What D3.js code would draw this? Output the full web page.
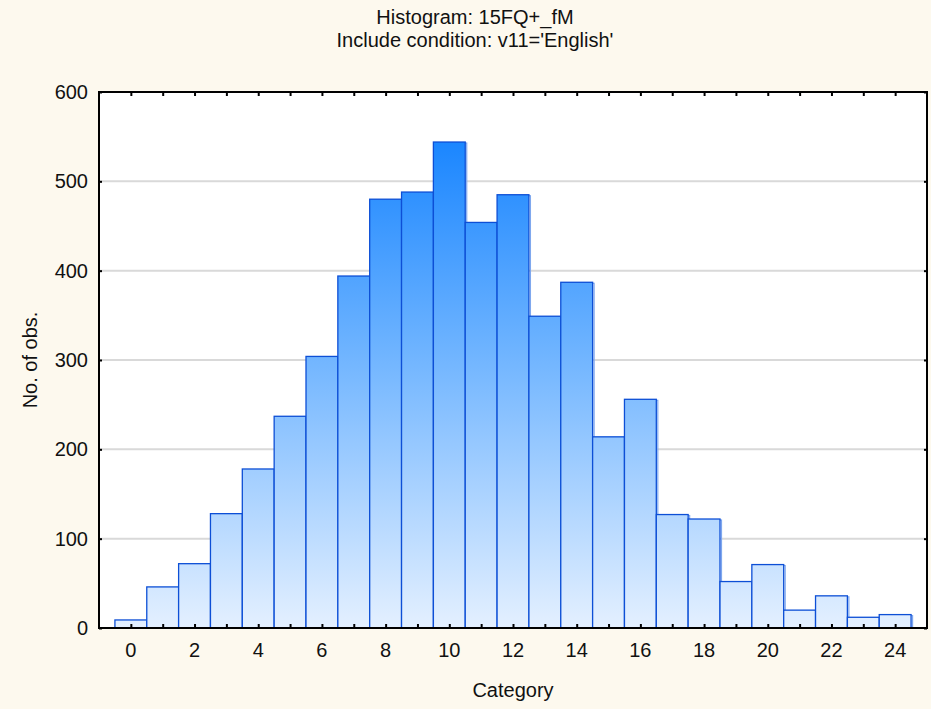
<!DOCTYPE html>
<html>
<head>
<meta charset="utf-8">
<script src="https://cdn.jsdelivr.net/npm/d3@7"></script>
<style>
  body { margin: 0; background: #fdf9ee; }
  svg { display: block; font-family: "Liberation Sans", Arial, sans-serif; }
</style>
</head>
<body>
<div id="chart"></div>
<script>
// histogram counts, category 0..24
var categories = d3.range(0, 25);
var counts = [9, 46, 72, 128, 178, 237, 304, 394, 480, 488, 544, 454, 485, 349, 387,
              214, 256, 127, 122, 52, 71, 20, 36, 12, 15];
var xTickLabels = [0, 2, 4, 6, 8, 10, 12, 14, 16, 18, 20, 22, 24];
var yTicks = [0, 100, 200, 300, 400, 500, 600];

var _width = 931, _height = 709,
    _margin = {top: 92, right: 4, bottom: 81, left: 99},
    _fontSize = 20;

var svg = d3.select('#chart').append('svg')
    .attr('width', _width)
    .attr('height', _height);

svg.append('rect')
    .attr('width', _width).attr('height', _height)
    .attr('fill', '#fdf9ee');

var innerW = _width - _margin.left - _margin.right,
    innerH = _height - _margin.top - _margin.bottom;

var x = d3.scaleLinear().domain([-1, 25]).range([_margin.left, _margin.left + innerW]);
var y = d3.scaleLinear().domain([0, 600]).range([_margin.top + innerH, _margin.top]);

// gradient tied to plot area so tall bars get the deep blue
var defs = svg.append('defs');
var grad = defs.append('linearGradient')
    .attr('id', 'barGrad')
    .attr('gradientUnits', 'userSpaceOnUse')
    .attr('x1', 0).attr('x2', 0)
    .attr('y1', y(560)).attr('y2', y(0));
grad.append('stop').attr('offset', '0%').attr('stop-color', '#1583ff');
grad.append('stop').attr('offset', '45%').attr('stop-color', '#6fb4ff');
grad.append('stop').attr('offset', '100%').attr('stop-color', '#e4f0ff');

// plot background
svg.append('rect')
    .attr('x', x(-1)).attr('y', y(600))
    .attr('width', innerW).attr('height', innerH)
    .attr('fill', '#ffffff');

// grid lines
svg.append('g')
    .selectAll('line')
    .data(yTicks.slice(1, -1))
    .enter().append('line')
      .attr('x1', x(-1)).attr('x2', x(25))
      .attr('y1', function(d) { return y(d); })
      .attr('y2', function(d) { return y(d); })
      .attr('stroke', '#d9d9d9')
      .attr('stroke-width', 2);

// bars: light offset edge first, then the bar itself
var bars = svg.append('g').selectAll('g')
    .data(categories)
    .enter().append('g');

bars.append('rect')
    .attr('x', function(d) { return x(d - 0.5) + 1.5; })
    .attr('y', function(d, i) { return y(counts[i]) + 1; })
    .attr('width', function(d) { return x(d + 0.5) - x(d - 0.5); })
    .attr('height', function(d, i) { return y(0) - y(counts[i]) - 1; })
    .attr('fill', 'none')
    .attr('stroke', '#7fa8ee')
    .attr('stroke-width', 1.2);

bars.append('rect')
    .attr('x', function(d) { return x(d - 0.5); })
    .attr('y', function(d, i) { return y(counts[i]); })
    .attr('width', function(d) { return x(d + 0.5) - x(d - 0.5); })
    .attr('height', function(d, i) { return y(0) - y(counts[i]); })
    .attr('fill', 'url(#barGrad)')
    .attr('stroke', '#0d4fd6')
    .attr('stroke-width', 1.3);

// frame
svg.append('rect')
    .attr('x', x(-1)).attr('y', y(600))
    .attr('width', innerW).attr('height', innerH)
    .attr('fill', 'none')
    .attr('stroke', '#000')
    .attr('stroke-width', 2);

// axes, ticks pointing inward
var xAxisBottom = d3.axisBottom(x).tickValues(categories).tickSize(-4).tickFormat('');
var xAxisTop = d3.axisTop(x).tickValues(categories).tickSize(-4).tickFormat('');
var yAxisLeft = d3.axisLeft(y).tickValues(yTicks).tickSize(-3).tickFormat('');
var yAxisRight = d3.axisRight(y).tickValues(yTicks).tickSize(-3).tickFormat('');

function styleAxis(g) {
  g.select('.domain').remove();
  g.selectAll('line').attr('stroke', '#000').attr('stroke-width', 2);
}

svg.append('g').attr('transform', 'translate(0,' + y(0) + ')').call(xAxisBottom).call(styleAxis);
svg.append('g').attr('transform', 'translate(0,' + y(600) + ')').call(xAxisTop).call(styleAxis);
svg.append('g').attr('transform', 'translate(' + x(-1) + ',0)').call(yAxisLeft).call(styleAxis);
svg.append('g').attr('transform', 'translate(' + x(25) + ',0)').call(yAxisRight).call(styleAxis);

// tick labels
svg.append('g').selectAll('text')
    .data(xTickLabels)
    .enter().append('text')
      .attr('x', function(d) { return x(d); })
      .attr('y', y(0) + 29)
      .attr('text-anchor', 'middle')
      .attr('font-size', _fontSize)
      .attr('fill', '#111')
      .text(function(d) { return d; });

svg.append('g').selectAll('text')
    .data(yTicks)
    .enter().append('text')
      .attr('x', x(-1) - 11)
      .attr('y', function(d) { return y(d) + 7; })
      .attr('text-anchor', 'end')
      .attr('font-size', _fontSize)
      .attr('fill', '#111')
      .text(function(d) { return d; });

// titles
svg.append('text')
    .attr('x', 475).attr('y', 24)
    .attr('text-anchor', 'middle')
    .attr('font-size', _fontSize)
    .attr('fill', '#111')
    .text('Histogram: 15FQ+_fM');

svg.append('text')
    .attr('x', 475).attr('y', 47)
    .attr('text-anchor', 'middle')
    .attr('font-size', _fontSize)
    .attr('fill', '#111')
    .text("Include condition: v11='English'");

svg.append('text')
    .attr('x', (x(-1) + x(25)) / 2).attr('y', 697)
    .attr('text-anchor', 'middle')
    .attr('font-size', _fontSize)
    .attr('fill', '#111')
    .text('Category');

svg.append('text')
    .attr('transform', 'translate(37,' + (y(300)) + ') rotate(-90)')
    .attr('text-anchor', 'middle')
    .attr('font-size', _fontSize)
    .attr('fill', '#111')
    .text('No. of obs.');
</script>
</body>
</html>
